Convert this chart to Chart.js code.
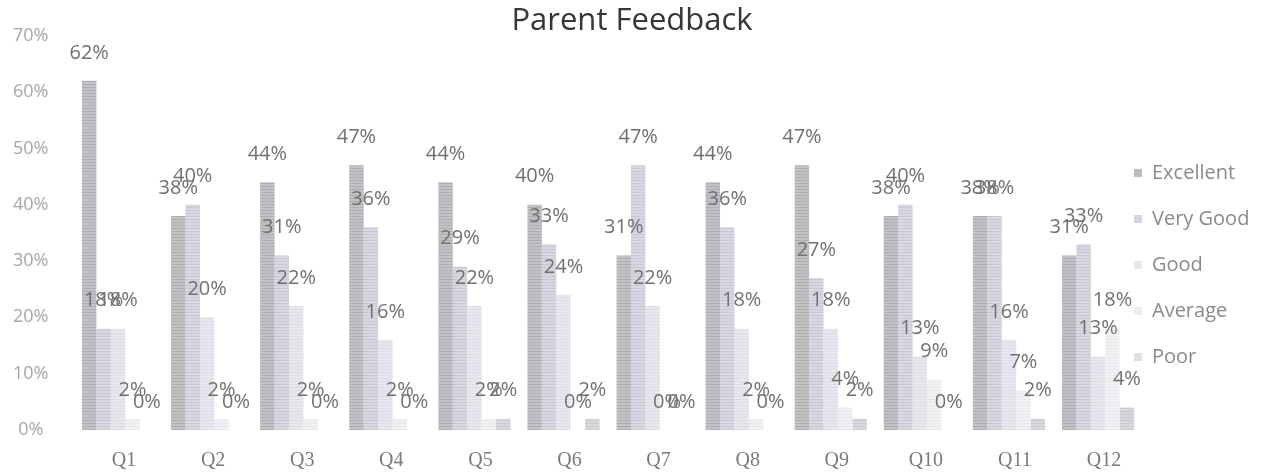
<!DOCTYPE html>
<html>
<head>
<meta charset="utf-8">
<title>Parent Feedback</title>
<script src="https://cdn.jsdelivr.net/npm/chart.js@4.4.1/dist/chart.umd.min.js"></script>
<style>
  html, body { margin: 0; padding: 0; background: #ffffff; }
  #wrap { width: 1264px; height: 475px; position: relative; }
</style>
</head>
<body>
<div id="wrap"><canvas id="chart" width="1264" height="475"></canvas></div>
<script>
// Survey questions and the share of answers (percent) for each rating
const categories = ['Q1', 'Q2', 'Q3', 'Q4', 'Q5', 'Q6', 'Q7', 'Q8', 'Q9', 'Q10', 'Q11', 'Q12'];
const excellent = [62, 38, 44, 47, 44, 40, 31, 44, 47, 38, 38, 31];
const veryGood  = [18, 40, 31, 36, 29, 33, 47, 36, 27, 40, 38, 33];
const good      = [18, 20, 22, 16, 22, 24, 22, 18, 18, 13, 16, 13];
const average   = [ 2,  2,  2,  2,  2,  0,  0,  2,  4,  9,  7, 18];
const poor      = [ 0,  0,  0,  0,  2,  2,  0,  0,  2,  0,  2,  4];
const seriesNames = ['Excellent', 'Very Good', 'Good', 'Average', 'Poor'];
const yTickValues = [0, 10, 20, 30, 40, 50, 60, 70];

// Fine horizontal line texture, like a printed bar fill
function makePattern(base, line) {
  const c = document.createElement('canvas');
  c.width = 4; c.height = 3;
  const g = c.getContext('2d');
  g.fillStyle = base; g.fillRect(0, 0, 4, 3);
  g.fillStyle = line; g.fillRect(0, 0, 4, 1);
  return g.createPattern(c, 'repeat');
}

const palette = [
  { base: '#c2c2c6', line: '#aeaeb3', key: '#bcbcc0' },
  { base: '#d7d7e1', line: '#c9c9d5', key: '#d4d4e0' },
  { base: '#e7e7ee', line: '#dddde6', key: '#e6e6ee' },
  { base: '#f1f1f3', line: '#e8e8ec', key: '#ededf0' },
  { base: '#d8d8dc', line: '#cacad0', key: '#e0e0e4' }
];
const seriesData = [excellent, veryGood, good, average, poor];

const datasets = seriesData.map((values, i) => ({
  label: seriesNames[i],
  data: values,
  backgroundColor: makePattern(palette[i].base, palette[i].line),
  keyColor: palette[i].key,
  borderWidth: 0,
  barPercentage: 1.0,
  categoryPercentage: 0.81
}));

// Percent value written above each bar
const valueLabels = {
  id: 'valueLabels',
  afterDatasetsDraw(chart) {
    const ctx = chart.ctx;
    ctx.save();
    ctx.font = '20px "Open Sans"';
    ctx.textAlign = 'center';
    ctx.textBaseline = 'middle';
    ctx.fillStyle = '#707070';
    chart.data.datasets.forEach((ds, i) => {
      const meta = chart.getDatasetMeta(i);
      meta.data.forEach((bar, j) => {
        ctx.fillText(ds.data[j] + '%', bar.x, bar.y - 28);
      });
    });
    ctx.restore();
  }
};

// Series key on the right-hand side
const sideLegend = {
  id: 'sideLegend',
  afterDraw(chart, args, opts) {
    const ctx = chart.ctx;
    ctx.save();
    ctx.font = '20px "Open Sans"';
    ctx.textAlign = 'left';
    ctx.textBaseline = 'middle';
    chart.data.datasets.forEach((ds, i) => {
      const y = opts.top + i * opts.spacing;
      ctx.fillStyle = ds.keyColor;
      ctx.fillRect(opts.x, y - 4, 8, 8);
      ctx.fillStyle = '#8a8a8a';
      ctx.fillText(ds.label, opts.x + 18, y);
    });
    ctx.restore();
  }
};

new Chart(document.getElementById('chart'), {
  type: 'bar',
  data: { labels: categories, datasets: datasets },
  options: {
    responsive: false,
    animation: false,
    layout: { padding: 0 },
    plugins: {
      legend: { display: false },
      tooltip: { enabled: false },
      title: {
        display: true,
        text: 'Parent Feedback',
        color: '#363636',
        font: { family: '"Open Sans"', size: 31, weight: 'normal', lineHeight: 0.95 },
        padding: { top: 6, bottom: 0 }
      },
      sideLegend: { x: 1134, top: 173, spacing: 46 }
    },
    scales: {
      x: {
        grid: { display: false, drawTicks: false },
        border: { display: false },
        ticks: {
          color: '#7a7a7a',
          font: { family: '"Liberation Serif"', size: 20 },
          padding: 19,
          labelOffset: 6,
          maxRotation: 0
        },
        afterFit(scale) { scale.height = 45; }
      },
      y: {
        min: 0,
        max: 70,
        grid: { display: false, drawTicks: false },
        border: { display: false },
        afterBuildTicks(scale) { scale.ticks = yTickValues.map(v => ({ value: v })); },
        ticks: {
          color: '#a6a6a6',
          font: { family: '"Open Sans"', size: 18 },
          crossAlign: 'center',
          padding: 25,
          callback: v => v + '%'
        },
        afterFit(scale) { scale.width = 73.5; }
      },
      // empty strip on the right that leaves room for the series key
      keySpace: {
        axis: 'y',
        position: 'right',
        display: true,
        grid: { display: false, drawTicks: false },
        border: { display: false },
        ticks: { display: false },
        afterFit(scale) { scale.width = 121.4; }
      }
    }
  },
  plugins: [valueLabels, sideLegend]
});
</script>
</body>
</html>
